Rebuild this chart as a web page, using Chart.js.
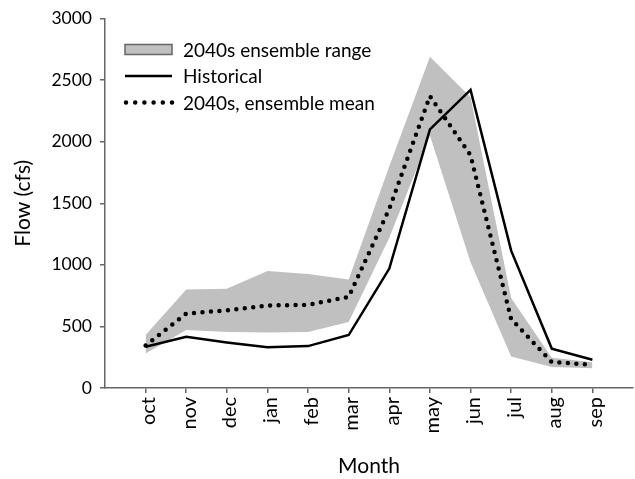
<!DOCTYPE html>
<html>
<head>
<meta charset="utf-8">
<script src="https://cdn.jsdelivr.net/npm/chart.js@4.4.1/dist/chart.umd.min.js"></script>
<style>
  html, body { margin: 0; padding: 0; background: #fff; }
  #wrap { width: 635px; height: 479px; }
</style>
</head>
<body>
<div id="wrap"><canvas id="c"></canvas></div>
<script>
// Monthly flow, water year order
const months = ['oct', 'nov', 'dec', 'jan', 'feb', 'mar', 'apr', 'may', 'jun', 'jul', 'aug', 'sep'];
const historical   = [335, 415, 370, 330, 340, 430, 970, 2100, 2420, 1115, 320, 230];
const ensembleMean = [345, 605, 630, 670, 675, 740, 1455, 2370, 1890, 560, 210, 190];
const rangeLow     = [280, 470, 455, 450, 455, 535, 1220, 2050, 1020, 255, 170, 160];
const rangeHigh    = [430, 800, 805, 950, 925, 880, 1800, 2690, 2360, 730, 245, 210];
const yTicks = [0, 500, 1000, 1500, 2000, 2500, 3000];

const legendLabels = ['2040s ensemble range', 'Historical', '2040s, ensemble mean'];

const FONT = 'Lato';
const TEXT = '#000';
const AXIS = '#666666';
const BAND = '#c0c0c0';

const pts = arr => arr.map((v, i) => ({ x: i, y: v }));

// Legend drawn inside the plot, top-left
const insideLegend = {
  id: 'insideLegend',
  afterDraw(chart) {
    const { ctx, chartArea } = chart;
    const x0 = chartArea.left + 20;
    const y0 = chartArea.top + 31;
    const rowH = 26.5;
    const sw = 47;
    ctx.save();
    // band swatch
    ctx.fillStyle = BAND;
    ctx.strokeStyle = AXIS;
    ctx.lineWidth = 1.5;
    ctx.fillRect(x0, y0 - 5, sw, 10);
    ctx.strokeRect(x0, y0 - 5, sw, 10);
    // solid line swatch
    ctx.strokeStyle = '#000';
    ctx.lineWidth = 2.5;
    ctx.beginPath();
    ctx.moveTo(x0, y0 + rowH);
    ctx.lineTo(x0 + sw, y0 + rowH);
    ctx.stroke();
    // dotted swatch
    ctx.lineWidth = 4.5;
    ctx.lineCap = 'round';
    ctx.setLineDash([0, 9.2]);
    ctx.beginPath();
    ctx.moveTo(x0 + 1, y0 + 2 * rowH);
    ctx.lineTo(x0 + sw, y0 + 2 * rowH);
    ctx.stroke();
    ctx.setLineDash([]);
    // labels
    ctx.fillStyle = TEXT;
    ctx.font = '19px ' + FONT;
    ctx.textBaseline = 'middle';
    ctx.textAlign = 'left';
    legendLabels.forEach((t, i) => ctx.fillText(t, x0 + sw + 11, y0 + i * rowH + 1));
    ctx.restore();
  }
};

new Chart(document.getElementById('c'), {
  type: 'line',
  data: {
    datasets: [
      {
        label: legendLabels[2],
        data: pts(ensembleMean),
        borderColor: '#000',
        borderWidth: 4.5,
        borderDash: [0, 8.5],
        borderCapStyle: 'round',
        pointRadius: 0,
        fill: false,
        order: 0
      },
      {
        label: legendLabels[1],
        data: pts(historical),
        borderColor: '#000',
        borderWidth: 2.5,
        pointRadius: 0,
        fill: false,
        order: 1
      },
      {
        label: 'range low',
        data: pts(rangeLow),
        borderWidth: 0,
        borderColor: 'rgba(0,0,0,0)',
        pointRadius: 0,
        fill: false,
        order: 3
      },
      {
        label: legendLabels[0],
        data: pts(rangeHigh),
        borderWidth: 0,
        borderColor: 'rgba(0,0,0,0)',
        backgroundColor: BAND,
        pointRadius: 0,
        fill: '-1',
        order: 2
      }
    ]
  },
  options: {
    responsive: true,
    maintainAspectRatio: false,
    animation: false,
    layout: { padding: { top: 17, right: 2, left: 0, bottom: 0 } },
    plugins: {
      legend: { display: false },
      tooltip: { enabled: false },
      filler: { drawTime: 'beforeDatasetsDraw' }
    },
    scales: {
      x: {
        type: 'linear',
        min: -1,
        max: 12,
        afterBuildTicks: s => { s.ticks = months.map((m, i) => ({ value: i })); },
        afterFit: s => { s.height = 91; },
        grid: { drawOnChartArea: false, tickLength: 5, color: AXIS, lineWidth: 1.5 },
        border: { color: AXIS, width: 1.5 },
        ticks: {
          minRotation: 90, maxRotation: 90,
          padding: 4,
          labelOffset: 3,
          color: TEXT,
          font: { family: FONT, size: 20 },
          callback: v => months[v]
        },
        title: {
          display: true, text: 'Month', color: TEXT,
          font: { family: FONT, size: 21 },
          padding: { top: 0, bottom: 0 }
        }
      },
      y: {
        min: 0,
        max: 3000,
        afterBuildTicks: s => { s.ticks = yTicks.map(v => ({ value: v })); },
        afterFit: s => { s.width = 105; },
        grid: { drawOnChartArea: false, tickLength: 5, color: AXIS, lineWidth: 1.5 },
        border: { color: AXIS, width: 1.5 },
        ticks: {
          padding: 8,
          color: TEXT,
          font: { family: FONT, size: 17.5 },
          callback: v => String(v)
        },
        title: {
          display: true, text: 'Flow (cfs)', color: TEXT,
          font: { family: FONT, size: 21 },
          padding: { top: 11, bottom: 0 }
        }
      }
    }
  },
  plugins: [insideLegend]
});
</script>
</body>
</html>
